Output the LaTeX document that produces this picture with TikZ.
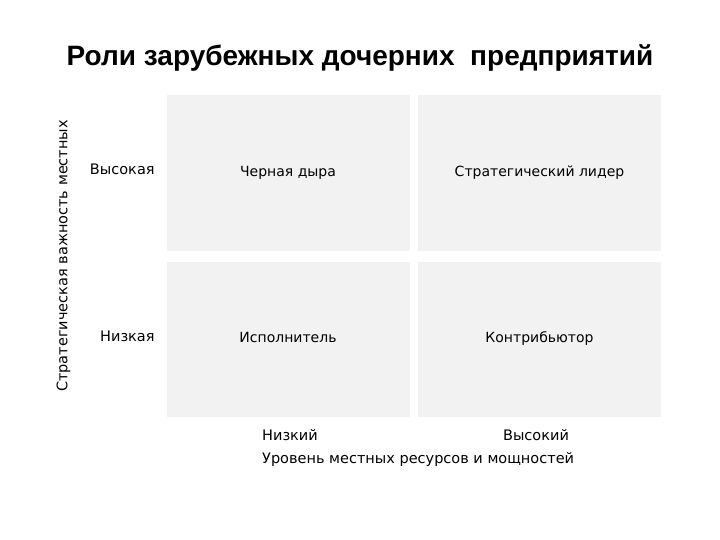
\documentclass[tikz,border=0pt]{standalone}
\usepackage{fontspec}
\setmainfont{DejaVu Sans}
\newfontfamily\titlefont{Liberation Sans}
\usetikzlibrary{positioning}

\begin{document}
\begin{tikzpicture}[x=1pt, y=-1pt,
    quad/.style={rectangle, fill=gray!10, minimum width=243pt, minimum height=155pt, inner sep=0pt, text height=1.5ex, text depth=.25ex, font=\fontsize{14}{17}\selectfont},
    lbl/.style={inner sep=0pt, text height=1.5ex, text depth=.25ex, font=\fontsize{14.5}{17}\selectfont}
]
    \useasboundingbox (0,0) rectangle (720,540);

    \node[font=\titlefont\bfseries\fontsize{28}{33}\selectfont] (title) at (360,58) {Роли зарубежных дочерних\ \ предприятий};

    % quadrants
    \node[quad] (hl) at (288,173) {Черная дыра};
    \node[quad] (hh) at (539.5,173) {Стратегический лидер};
    \node[quad] (ll) at (288,339.5) {Исполнитель};
    \node[quad] (lh) at (539.5,339.5) {Контрибьютор};

    % vertical axis
    \node[lbl, anchor=east, left=11.5pt of hl.west, yshift=2pt] (high) {Высокая};
    \node[lbl, anchor=east, left=11.5pt of ll.west, yshift=1.5pt] (low) {Низкая};
    \node[lbl, rotate=90] (yaxis) at (64,256) {Стратегическая важность местных};

    % horizontal axis
    \node[lbl] (lowx) at (290,437) {Низкий};
    \node[lbl] (highx) at (536,437) {Высокий};
    \node[lbl, anchor=west] (xaxis) at (262,460) {Уровень местных ресурсов и мощностей};

\end{tikzpicture}
\end{document}
